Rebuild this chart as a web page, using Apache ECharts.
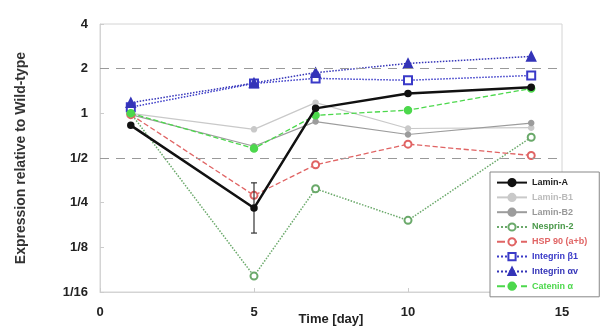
<!DOCTYPE html>
<html>
<head>
<meta charset="utf-8">
<script src="https://cdn.jsdelivr.net/npm/echarts@6/dist/echarts.min.js"></script>
<style>
  html, body { margin: 0; padding: 0; background: #fff; }
  #chart { width: 603px; height: 336px; }
</style>
</head>
<body>
<div id="chart"></div>
<script>
// time points (days)
var days = [1, 5, 7, 10, 14];

// expression relative to wild-type, one list per gene
var laminA     = [0.83, 0.23, 1.08, 1.36, 1.50];
var laminB1    = [1.00, 0.78, 1.18, 0.79, 0.80];
var laminB2    = [0.98, 0.60, 0.88, 0.72, 0.86];
var nesprin2   = [1.00, 0.08, 0.31, 0.19, 0.69];
var hsp90      = [0.98, 0.28, 0.45, 0.62, 0.52];
var integrinB1 = [1.10, 1.59, 1.72, 1.67, 1.80];
var integrinAv = [1.18, 1.60, 1.88, 2.17, 2.42];
var catenin    = [1.00, 0.58, 0.97, 1.05, 1.47];

// error bar on Lamin-A at day 5
var errDays = [5];
var errLow  = [0.156];
var errHigh = [0.34];

// dashed reference lines and y tick labels
var refLines = [2, 0.5];
var yTicks = ['1/16', '1/8', '1/4', '1/2', '1', '2', '4'];

var myChart = echarts.init(document.getElementById('chart'));

function pairs(vals) {
    return days.map(function (d, i) { return [d, vals[i]]; });
}

function makeLine(name, vals, color, type, width, symbol, size) {
    return {
        name: name,
        type: 'line',
        data: pairs(vals),
        symbol: symbol,
        symbolSize: size,
        lineStyle: { color: color, type: type, width: width },
        itemStyle: { color: color, borderColor: color, borderWidth: 1.5 },
        z: 3
    };
}

var series = [
    makeLine('Lamin-B1', laminB1, '#c9c9c9', 'solid', 1.2, 'circle', 5),
    makeLine('Lamin-B2', laminB2, '#9c9c9c', 'solid', 1.2, 'circle', 5),
    makeLine('Nesprin-2', nesprin2, '#6aa96a', 'dotted', 1.5, 'emptyCircle', 7),
    makeLine('HSP 90 (a+b)', hsp90, '#e06464', 'dashed', 1.3, 'emptyCircle', 7),
    makeLine('Integrin β1', integrinB1, '#3a3ac8', 'dotted', 1.5, 'emptyRect', 8),
    makeLine('Integrin αv', integrinAv, '#3434b8', 'dotted', 1.5, 'triangle', 9),
    makeLine('Catenin α', catenin, '#4cd84c', 'dashed', 1.3, 'circle', 7),
    makeLine('Lamin-A', laminA, '#111111', 'solid', 2.5, 'circle', 6)
];
series[series.length - 1].z = 5;

// dashed grid references
series.push({
    type: 'line',
    data: [],
    silent: true,
    markLine: {
        symbol: 'none',
        label: { show: false },
        lineStyle: { color: '#999', type: [9, 7], width: 1 },
        data: refLines.map(function (v) { return { yAxis: v }; })
    }
});

// error bar
series.push({
    type: 'custom',
    silent: true,
    z: 4,
    data: errDays.map(function (d, i) { return [d, errLow[i], errHigh[i]]; }),
    renderItem: function (params, api) {
        var lo = api.coord([api.value(0), api.value(1)]);
        var hi = api.coord([api.value(0), api.value(2)]);
        return {
            type: 'group',
            children: [
                { type: 'line', shape: { x1: lo[0], y1: lo[1], x2: hi[0], y2: hi[1] }, style: { stroke: '#333', lineWidth: 1.2 } },
                { type: 'line', shape: { x1: lo[0] - 3, y1: lo[1], x2: lo[0] + 3, y2: lo[1] }, style: { stroke: '#333', lineWidth: 1.2 } },
                { type: 'line', shape: { x1: hi[0] - 3, y1: hi[1], x2: hi[0] + 3, y2: hi[1] }, style: { stroke: '#333', lineWidth: 1.2 } }
            ]
        };
    }
});

var legendColors = ['#222', '#bbb', '#999', '#4a994a', '#e06464', '#3a3ac8', '#3434b8', '#4cd84c'];
var legendNames = ['Lamin-A', 'Lamin-B1', 'Lamin-B2', 'Nesprin-2', 'HSP 90 (a+b)', 'Integrin β1', 'Integrin αv', 'Catenin α'];

var option = {
    animation: false,
    textStyle: { fontFamily: 'Liberation Sans, Arial, sans-serif' },
    grid: {
        left: 100,
        right: 41,
        top: 24,
        bottom: 44,
        outerBoundsMode: 'none',
        show: true,
        borderColor: '#d4d4d4',
        borderWidth: 1
    },
    legend: {
        orient: 'vertical',
        left: 490,
        top: 172,
        itemWidth: 30,
        itemHeight: 9,
        itemGap: 5.6,
        padding: [6, 12, 6, 6],
        backgroundColor: '#fff',
        borderColor: '#888',
        borderWidth: 1,
        textStyle: { fontSize: 9, fontWeight: 'bold' },
        data: legendNames.map(function (n, i) {
            return { name: n, textStyle: { color: legendColors[i] } };
        })
    },
    xAxis: {
        type: 'value',
        min: 0,
        max: 15,
        interval: 5,
        name: 'Time [day]',
        nameLocation: 'middle',
        nameGap: 21,
        nameMoveOverlap: false,
        nameTextStyle: { fontSize: 13, fontWeight: 'bold', color: '#222' },
        axisLine: { lineStyle: { color: '#d4d4d4' } },
        axisTick: { inside: true, length: 4, lineStyle: { color: '#ccc' } },
        axisLabel: { fontSize: 13, fontWeight: 'bold', color: '#222', margin: 14 },
        splitLine: { show: false }
    },
    yAxis: {
        type: 'log',
        logBase: 2,
        min: 1 / 16,
        max: 4,
        interval: 1,
        name: 'Expression relative to Wild-type',
        nameLocation: 'middle',
        nameGap: 72,
        nameMoveOverlap: false,
        nameTextStyle: { fontSize: 14, fontWeight: 'bold', color: '#333' },
        axisLine: { show: true, lineStyle: { color: '#d4d4d4' } },
        axisTick: { inside: true, length: 4, lineStyle: { color: '#ccc' } },
        axisLabel: {
            fontSize: 13,
            fontWeight: 'bold',
            color: '#222',
            margin: 12,
            formatter: function (v) {
                var idx = Math.round(Math.log(v) / Math.log(2)) + 4;
                return yTicks[idx];
            }
        },
        splitLine: { show: false }
    },
    series: series
};
myChart.setOption(option);
</script>
</body>
</html>
